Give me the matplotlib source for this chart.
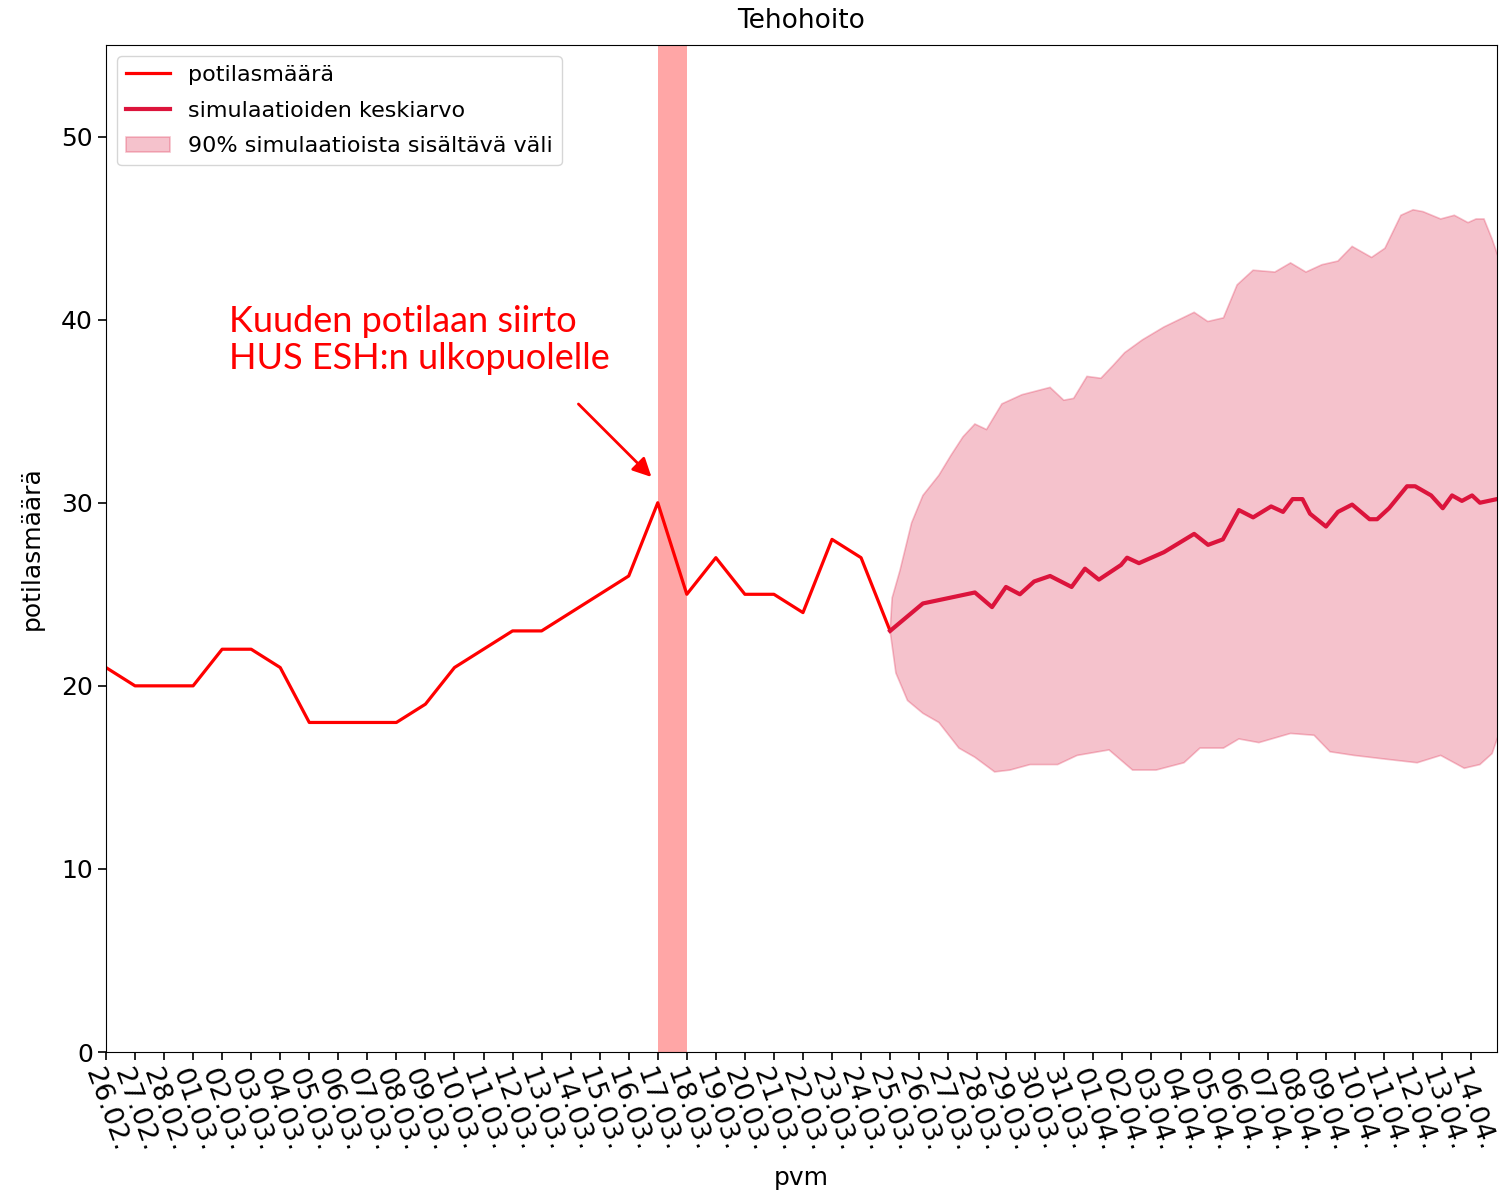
import matplotlib
matplotlib.use("Agg")
import matplotlib.pyplot as plt
import numpy as np
import pandas as pd

# x axis: one tick per day, 26.02. - 14.04.
dates = pd.date_range("2021-02-26", "2021-04-14", freq="D")
tick_labels = list(dates.strftime("%d.%m."))

# observed ICU patients, day index 0 = 26.02.
obs_days = list(range(28))
obs_values = [21, 20, 20, 20, 22, 22, 21, 18, 18, 18, 18, 19, 21, 22,
              23, 23, 24, 25, 26, 30, 25, 27, 25, 25, 24, 28, 27, 23]

# simulation mean (day index, value)
mean_days = [27.0, 28.13, 29.03, 29.92, 30.51, 30.99, 31.47, 31.96, 32.51,
             33.25, 33.71, 34.19, 34.95, 35.16, 35.57, 36.43, 37.47, 37.95,
             38.46, 39.01, 39.50, 40.12, 40.53, 40.86, 41.20, 41.46, 42.01,
             42.42, 42.91, 43.51, 43.77, 44.18, 44.80, 45.08, 45.63, 46.03,
             46.35, 46.69, 47.04, 47.31, 47.90]
mean_values = [23.0, 24.5, 24.8, 25.1, 24.3, 25.4, 25.0, 25.7, 26.0,
               25.4, 26.4, 25.8, 26.6, 27.0, 26.7, 27.3, 28.3, 27.7,
               28.0, 29.6, 29.2, 29.8, 29.5, 30.2, 30.2, 29.4, 28.7,
               29.5, 29.9, 29.1, 29.1, 29.7, 30.9, 30.9, 30.4, 29.7,
               30.4, 30.1, 30.4, 30.0, 30.2]

# 90 % interval, upper and lower edge
high_days = [27.0, 27.07, 27.34, 27.74, 28.13, 28.68, 29.10, 29.51, 29.92,
             30.32, 30.85, 31.54, 32.51, 32.98, 33.32, 33.78, 34.26, 34.68,
             35.08, 35.69, 36.43, 37.47, 37.94, 38.48, 38.95, 39.50, 40.25,
             40.79, 41.32, 41.87, 42.42, 42.91, 43.58, 44.04, 44.59, 45.01,
             45.35, 45.96, 46.43, 46.90, 47.18, 47.45, 47.73, 47.97]
high_values = [23.0, 24.8, 26.3, 28.9, 30.4, 31.5, 32.6, 33.6, 34.3,
               34.0, 35.4, 35.9, 36.3, 35.6, 35.7, 36.9, 36.8, 37.5,
               38.2, 38.9, 39.6, 40.4, 39.9, 40.1, 41.9, 42.7, 42.6,
               43.1, 42.6, 43.0, 43.2, 44.0, 43.4, 43.9, 45.7, 46.0,
               45.9, 45.5, 45.7, 45.3, 45.5, 45.5, 44.4, 43.3]
low_days = [27.0, 27.20, 27.60, 28.13, 28.68, 29.37, 29.92, 30.60, 31.13,
            31.82, 32.77, 33.44, 34.54, 35.35, 36.16, 37.12, 37.67, 38.48,
            39.01, 39.70, 40.79, 41.60, 42.15, 42.98, 44.04, 45.15, 45.96,
            46.77, 47.31, 47.73, 47.97]
low_values = [23.0, 20.7, 19.2, 18.5, 18.0, 16.6, 16.1, 15.3, 15.4,
              15.7, 15.7, 16.2, 16.5, 15.4, 15.4, 15.8, 16.6, 16.6,
              17.1, 16.9, 17.4, 17.3, 16.4, 16.2, 16.0, 15.8, 16.2,
              15.5, 15.7, 16.3, 17.4]

# transfer day 17.03. -> 18.03.
span_start, span_end = 19, 20

fig = plt.figure(figsize=(14.99, 12), dpi=100)
ax = fig.add_axes([0.0707, 0.1233, 0.928, 0.8392])

ax.axvspan(span_start, span_end, color="red", alpha=0.35, lw=0)

band_x = np.concatenate([high_days, low_days[::-1]])
band_y = np.concatenate([high_values, low_values[::-1]])
ax.fill(band_x, band_y, color="crimson", alpha=0.26, lw=1.2,
        label="90% simulaatioista sisältävä väli")

ax.plot(obs_days, obs_values, color="red", lw=2.3, label="potilasmäärä")
ax.plot(mean_days, mean_values, color="crimson", lw=3,
        label="simulaatioiden keskiarvo")

# annotation about the patient transfer
ax.text(4.25, 40.8, "Kuuden potilaan siirto\nHUS ESH:n ulkopuolelle",
        color="red", fontsize=26, family="Lato",
        ha="left", va="top", linespacing=1.15)
ax.annotate("", xy=(18.85, 31.3), xytext=(16.2, 35.5),
            arrowprops=dict(arrowstyle="-|>", color="red", lw=2,
                            mutation_scale=28))

ax.set_xlim(0, 47.9)
ax.set_ylim(0, 55)
ax.set_xticks(range(len(tick_labels)))
ax.set_xticklabels(tick_labels, rotation=-70, fontsize=19.5)
ax.set_yticks(range(0, 51, 10))
ax.tick_params(axis="y", labelsize=18)
ax.tick_params(length=6, width=1.2)

ax.set_title("Tehohoito", fontsize=19, pad=12)
ax.set_xlabel("pvm", fontsize=18, labelpad=8)
ax.set_ylabel("potilasmäärä", fontsize=18, labelpad=12)

handles, labels = ax.get_legend_handles_labels()
order = [1, 2, 0]
ax.legend([handles[i] for i in order], [labels[i] for i in order],
          loc="upper left", fontsize=16, labelspacing=0.7)

fig.savefig("out.png", dpi=100)
